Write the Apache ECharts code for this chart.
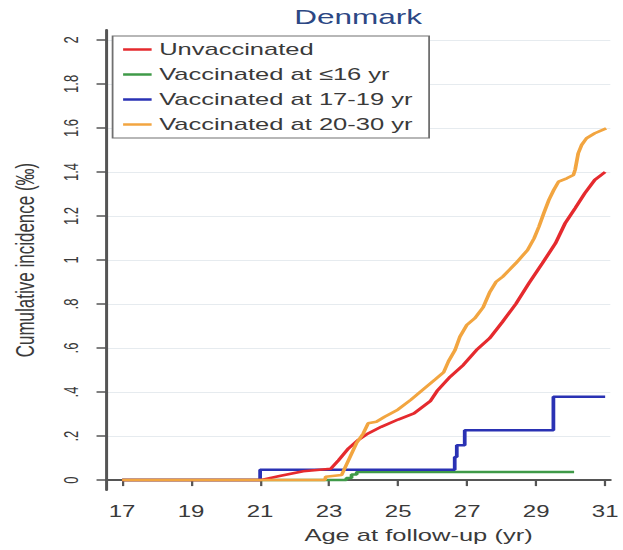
<!DOCTYPE html>
<html>
<head>
<meta charset="utf-8">
<script src="https://cdn.jsdelivr.net/npm/echarts@6/dist/echarts.min.js"></script>
<style>
html,body{margin:0;padding:0;background:#fff;overflow:hidden;}
#c{width:415px;height:550px;transform:scaleX(1.5012);transform-origin:0 0;}
</style>
</head>
<body>
<div id="c"></div>
<script>
// ---- data ----
const xTicks = [17, 19, 21, 23, 25, 27, 29, 31];
const yTicks = [0, 0.2, 0.4, 0.6, 0.8, 1, 1.2, 1.4, 1.6, 1.8, 2];
const seriesNames = ['Unvaccinated', 'Vaccinated at \u226416 yr', 'Vaccinated at 17-19 yr', 'Vaccinated at 20-30 yr'];

const unvacAge = [17, 21, 21.6, 22.25, 23.05, 23.27, 23.56, 23.84, 24.13, 24.51, 25.0, 25.46, 25.94, 26.13, 26.51, 26.89, 27.27, 27.65, 28.03, 28.41, 28.79, 29.18, 29.56, 29.84, 30.13, 30.41, 30.70, 31.0];
const unvacVal = [0, 0, 0.02, 0.04, 0.052, 0.09, 0.144, 0.182, 0.212, 0.242, 0.275, 0.303, 0.36, 0.405, 0.47, 0.523, 0.591, 0.644, 0.72, 0.80, 0.894, 0.985, 1.076, 1.167, 1.235, 1.303, 1.364, 1.40];

const v16Age = [17, 23.5, 23.65, 23.8, 30.1];
const v16Val = [0, 0.01, 0.025, 0.037, 0.037];

const v1719Age = [17, 21, 26.64, 26.7, 26.93, 29.5, 31.0];
const v1719Val = [0, 0.047, 0.105, 0.158, 0.227, 0.379, 0.379];

const v2030Age = [17, 22.88, 22.9, 23.36, 23.56, 23.79, 23.99, 24.13, 24.37, 24.61, 24.99, 25.37, 25.75, 26.08, 26.32, 26.46, 26.65, 26.79, 26.99, 27.22, 27.46, 27.65, 27.84, 28.03, 28.41, 28.75, 28.94, 29.08, 29.22, 29.37, 29.51, 29.65, 29.89, 30.08, 30.13, 30.22, 30.32, 30.46, 30.70, 31.03];
const v2030Val = [0, 0, 0.015, 0.023, 0.09, 0.167, 0.212, 0.258, 0.265, 0.288, 0.32, 0.365, 0.415, 0.458, 0.49, 0.54, 0.591, 0.651, 0.705, 0.735, 0.784, 0.852, 0.901, 0.924, 0.985, 1.045, 1.098, 1.151, 1.212, 1.273, 1.318, 1.356, 1.371, 1.386, 1.41, 1.485, 1.523, 1.553, 1.576, 1.598];

// ---- build ----
const zip = (a, b) => a.map((x, i) => [x, b[i]]);
const FONT = 'Liberation Sans, Arial, sans-serif';
const chart = echarts.init(document.getElementById('c'), null, {renderer: 'svg'});

function yFmt(v) {
  const r = Math.round(v * 10) / 10;
  if (r === 0) return '0';
  let s = String(r);
  if (s.startsWith('0.')) s = s.slice(1);
  return s;
}

const lineSeries = (name, ages, vals, color, step, z) => ({
  name: name,
  type: 'line',
  data: zip(ages, vals),
  step: step,
  symbol: 'none',
  showSymbol: false,
  z: z,
  lineStyle: {color: color, width: 2.5},
  itemStyle: {color: color},
  animation: false
});

chart.setOption({
  animation: false,
  backgroundColor: '#ffffff',
  textStyle: {fontFamily: FONT},
  title: {
    text: 'Denmark',
    left: 196,
    top: 6,
    padding: 0,
    textStyle: {fontFamily: FONT, fontSize: 21, fontWeight: 'normal', color: '#2c4784'}
  },
  legend: {
    orient: 'vertical',
    left: 75,
    top: 36,
    padding: [5, 11, 5, 7],
    itemGap: 8,
    itemWidth: 19,
    itemHeight: 2.5,
    icon: 'rect',
    borderColor: '#707070',
    borderWidth: 1.2,
    backgroundColor: '#ffffff',
    data: seriesNames,
    textStyle: {fontFamily: FONT, fontSize: 17, color: '#3a3a3a', lineHeight: 17}
  },
  grid: {left: 70, right: 5, top: 30, bottom: 60},
  xAxis: {
    type: 'value',
    min: 16.55,
    max: 31.15,
    name: 'Age at follow-up (yr)',
    nameLocation: 'middle',
    nameGap: 37,
    nameTextStyle: {fontFamily: FONT, fontSize: 17, color: '#3a3a3a', padding: [0, 0, 0, 80]},
    axisLine: {show: true, lineStyle: {color: '#555', width: 2}},
    axisTick: {show: true, customValues: xTicks, length: 6, lineStyle: {color: '#555', width: 1.5}},
    axisLabel: {customValues: xTicks, fontSize: 16, color: '#3a3a3a', margin: 13, fontFamily: FONT},
    splitLine: {show: false}
  },
  yAxis: {
    type: 'value',
    min: -0.045,
    max: 2.045,
    name: 'Cumulative incidence (\u2030)',
    nameLocation: 'middle',
    nameGap: 46,
    nameTextStyle: {fontFamily: FONT, fontSize: 17, color: '#3a3a3a'},
    axisLine: {show: true, lineStyle: {color: '#555', width: 2}},
    axisTick: {show: true, customValues: yTicks, length: 6.7, lineStyle: {color: '#555', width: 1.5}},
    axisLabel: {customValues: yTicks, rotate: 90, fontSize: 13, color: '#3a3a3a', margin: 17, formatter: yFmt, fontFamily: FONT},
    splitLine: {show: true, lineStyle: {color: '#e6ebef', width: 1}}
  },
  series: [
    lineSeries(seriesNames[0], unvacAge, unvacVal, '#e52a2e', false, 4),
    lineSeries(seriesNames[1], v16Age, v16Val, '#3f9a48', 'end', 2),
    lineSeries(seriesNames[2], v1719Age, v1719Val, '#2a32b4', 'end', 3),
    lineSeries(seriesNames[3], v2030Age, v2030Val, '#f2a540', false, 5)
  ]
});
</script>
</body>
</html>
